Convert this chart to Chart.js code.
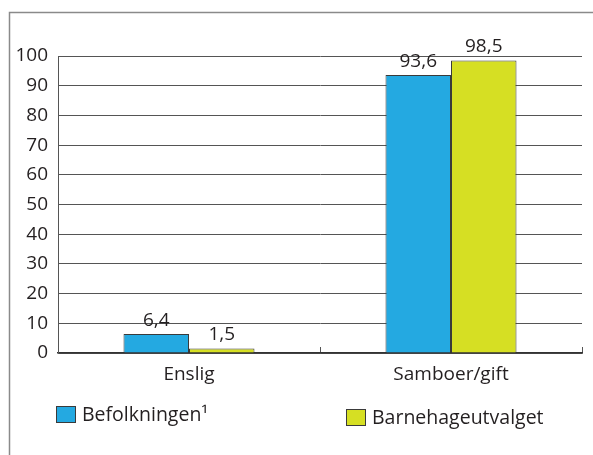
<!DOCTYPE html>
<html>
<head>
<meta charset="utf-8">
<script src="https://cdn.jsdelivr.net/npm/chart.js@4"></script>
<style>
    body { margin: 0; background: #fff; }
    canvas { display: block; }
</style>
</head>
<body>
<canvas id="myChart" width="593" height="455"></canvas>
<script>
const categories = ['Enslig', 'Samboer/gift'];
const seriesNames = ['Befolkningen\u00b9', 'Barnehageutvalget'];
const befolkningen = [6.4, 93.6];
const barnehageutvalget = [1.5, 98.5];
const yMin = 0;
const yMax = 100;
const yStep = 10;

const FONT = '"Open Sans", "DejaVu Sans", sans-serif';
const TEXT = '#231f20';

// frame: only top and left lines like the source
const framePlugin = {
    id: 'frame',
    beforeDraw(chart) {
        const ctx = chart.ctx;
        ctx.save();
        ctx.strokeStyle = '#8a8a8a';
        ctx.lineWidth = 1.5;
        ctx.beginPath();
        ctx.moveTo(9.5, chart.height);
        ctx.lineTo(9.5, 12.5);
        ctx.lineTo(chart.width, 12.5);
        ctx.stroke();
        ctx.restore();
    }
};

// value labels above bars, decimal comma
const valueLabels = {
    id: 'valueLabels',
    afterDatasetsDraw(chart) {
        const ctx = chart.ctx;
        ctx.save();
        ctx.font = '19px ' + FONT;
        ctx.fillStyle = TEXT;
        ctx.textAlign = 'center';
        ctx.textBaseline = 'bottom';
        chart.data.datasets.forEach((ds, i) => {
            chart.getDatasetMeta(i).data.forEach((bar, j) => {
                const txt = ds.data[j].toFixed(1).replace('.', ',');
                ctx.fillText(txt, bar.x, bar.y - 4);
            });
        });
        ctx.restore();
    }
};

// legend placed like the source (two items, not in one row)
const legendSpots = [{x: 56, y: 406}, {x: 346, y: 409}];
const customLegend = {
    id: 'customLegend',
    afterDraw(chart) {
        const ctx = chart.ctx;
        ctx.save();
        ctx.font = '19.5px ' + FONT;
        ctx.textBaseline = 'middle';
        ctx.textAlign = 'left';
        chart.data.datasets.forEach((ds, i) => {
            const p = legendSpots[i];
            ctx.fillStyle = ds.backgroundColor;
            ctx.fillRect(p.x, p.y, 20, 17);
            ctx.strokeStyle = '#3a3a3a';
            ctx.lineWidth = 1;
            ctx.strokeRect(p.x + 0.5, p.y + 0.5, 19, 16);
            ctx.fillStyle = TEXT;
            ctx.fillText(ds.label, p.x + 26, p.y + 9);
        });
        ctx.restore();
    }
};

const data = {
    labels: categories,
    datasets: [
        {
            label: seriesNames[0],
            data: befolkningen,
            backgroundColor: '#24a9e1',
            borderColor: '#3a3a3a',
            borderWidth: 1,
        },
        {
            label: seriesNames[1],
            data: barnehageutvalget,
            backgroundColor: '#d6df23',
            borderColor: '#3a3a3a',
            borderWidth: 1,
        }
    ]
};

const config = {
    type: 'bar',
    data: data,
    options: {
        responsive: false,
        animation: false,
        categoryPercentage: 0.5,
        barPercentage: 1.0,
        layout: {
            padding: { top: 56, right: 11, bottom: 0, left: 0 }
        },
        plugins: {
            legend: { display: false },
            tooltip: { enabled: false },
        },
        scales: {
            x: {
                grid: {
                    offset: true,
                    drawOnChartArea: false,
                    drawTicks: true,
                    tickLength: -6,
                    color: '#555',
                },
                border: { color: '#333', width: 1.5 },
                ticks: {
                    padding: 16,
                    color: TEXT,
                    font: { family: FONT, size: 19 },
                },
                afterFit(scale) { scale.height = 102; },
            },
            y: {
                min: yMin,
                max: yMax,
                grid: {
                    drawTicks: false,
                    color: '#555',
                    lineWidth: 1,
                },
                border: { color: '#555', width: 1 },
                ticks: {
                    stepSize: yStep,
                    padding: 10,
                    color: TEXT,
                    font: { family: FONT, size: 19 },
                },
                afterFit(scale) { scale.width = 58; },
            }
        }
    },
    plugins: [framePlugin, valueLabels, customLegend],
};

/*eslint-disable no-unused-vars*/
const graphe = new Chart(document.getElementById('myChart'), config);
</script>
</body>
</html>
